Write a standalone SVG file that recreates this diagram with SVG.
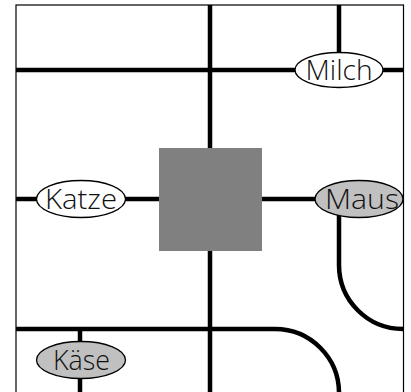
<svg xmlns="http://www.w3.org/2000/svg" width="411" height="392" viewBox="0 0 411 392">
<style>
.road{fill:none;stroke:#000;stroke-width:4.5}
.lbl{font-family:"Open Sans","DejaVu Sans",sans-serif;font-weight:300;font-size:27px;fill:#111;text-anchor:middle}
.oval{stroke:#000;stroke-width:1.3}
.white{fill:#fff}
.grey{fill:#c0c0c0}
</style>
<rect x="0" y="0" width="411" height="392" fill="#fff"/>
<rect id="border" x="16" y="5" width="387.5" height="400" fill="none" stroke="#000" stroke-width="1.2"/>
<g id="connectors">
<path class="road" d="M16 70H403.5"/>
<path class="road" d="M16 199H403.5"/>
<path class="road" d="M16 329H275A64 64 0 0 1 339 393"/>
<path class="road" d="M210 5V392"/>
<path class="road" d="M339 5V70"/>
<path class="road" d="M339 199V265A64 64 0 0 0 403 329"/>
<path class="road" d="M80 329V392"/>
</g>
<g id="square"><rect x="159" y="148" width="103" height="103" fill="#808080"/></g>
<g id="milch"><ellipse class="oval white" cx="339" cy="70" rx="44" ry="17.5"/><text class="lbl" x="339" y="79.5" textLength="67" lengthAdjust="spacingAndGlyphs">Milch</text></g>
<g id="katze"><ellipse class="oval white" cx="81" cy="199" rx="44.5" ry="18.5"/><text class="lbl" x="81" y="208.5" textLength="72" lengthAdjust="spacingAndGlyphs">Katze</text></g>
<g id="maus"><ellipse class="oval grey" cx="359" cy="199" rx="44" ry="18.5"/><text class="lbl" x="362" y="208.5" textLength="74" lengthAdjust="spacingAndGlyphs">Maus</text></g>
<g id="kaese"><ellipse class="oval grey" cx="81" cy="360" rx="44.5" ry="18.5"/><text class="lbl" x="81.5" y="369.5" textLength="57" lengthAdjust="spacingAndGlyphs">Käse</text></g>
</svg>
